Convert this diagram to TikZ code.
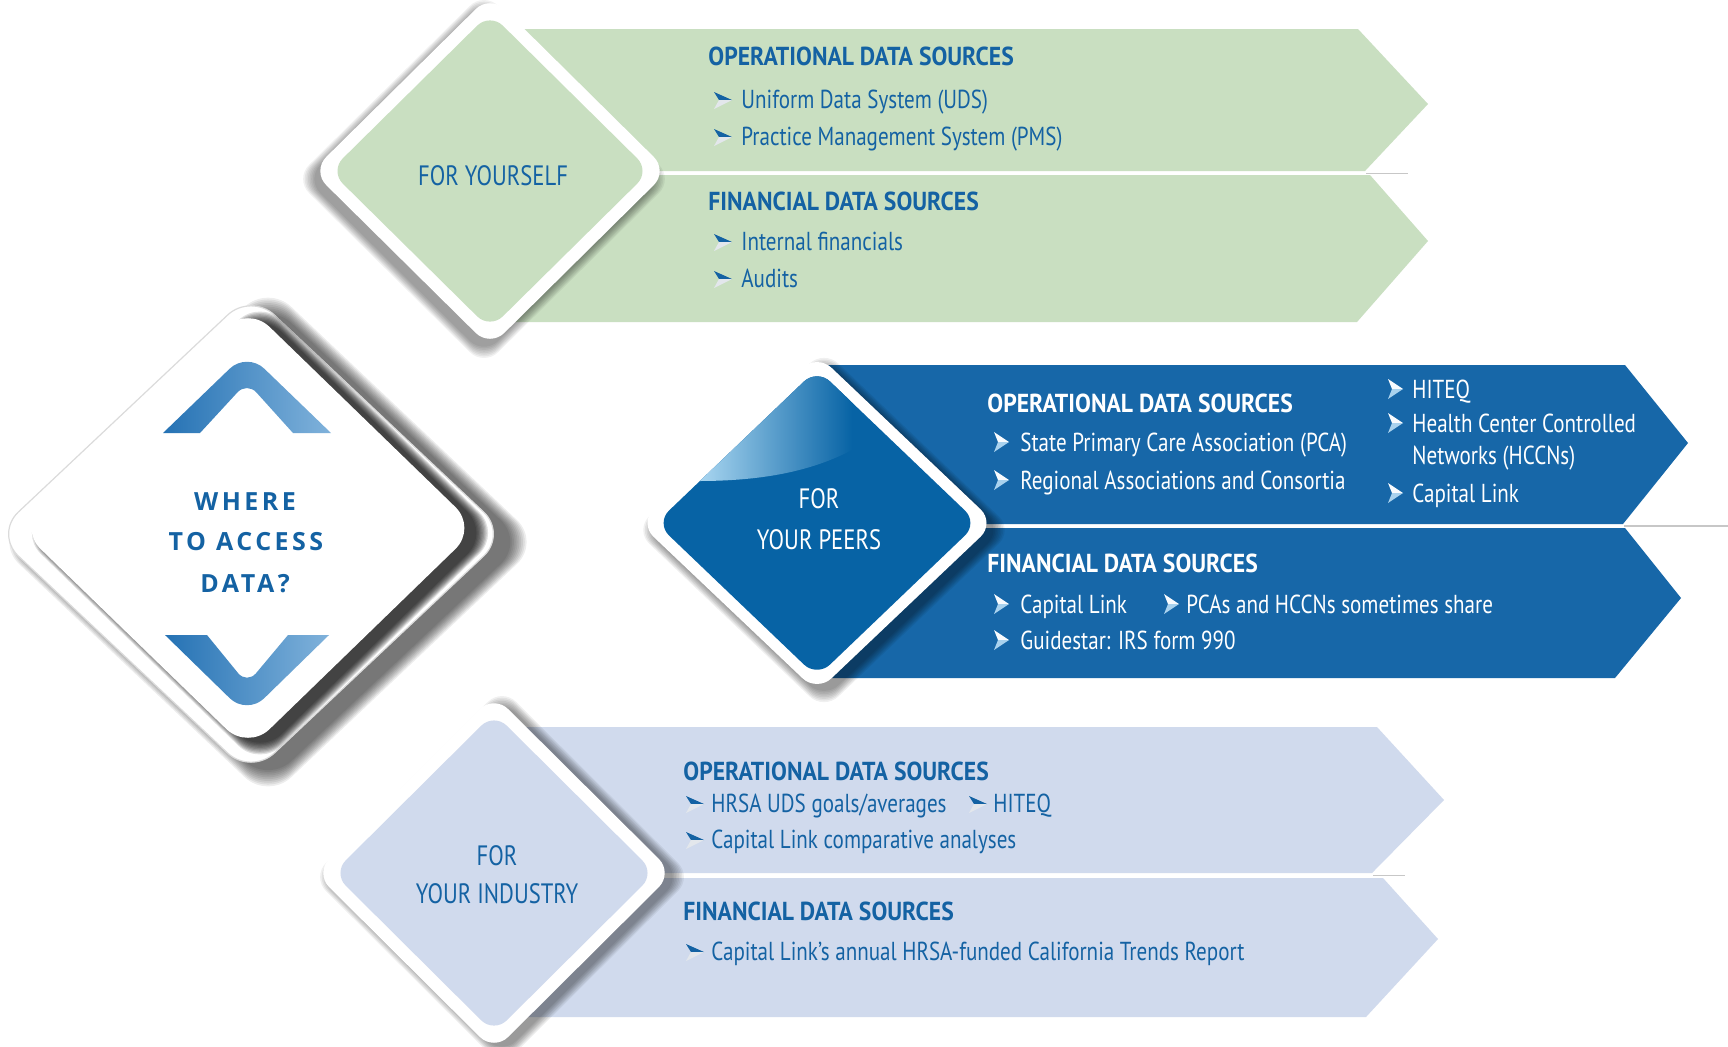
\documentclass[tikz,border=0pt]{standalone}
\usepackage{fontspec}
\setmainfont{PT Sans}
\newfontfamily\cond{PT Sans}[FakeStretch=0.81]
\newfontfamily\condhead{PT Sans}[FakeStretch=0.91]
\newfontfamily\wide{Open Sans}[LetterSpace=14]
\definecolor{ink}{HTML}{1462A3}
\definecolor{leaf}{HTML}{C9DFC1}
\definecolor{sea}{HTML}{1767A8}
\definecolor{deep}{HTML}{0763A5}
\definecolor{mist}{HTML}{D0DAED}
\definecolor{glow}{HTML}{B3DDF5}
\definecolor{chevA}{HTML}{2572B4}
\definecolor{chevB}{HTML}{80B2DB}
\definecolor{paper}{HTML}{E3E7EC}
\definecolor{pale}{HTML}{A9D2EE}
% rounded diamond: centre x, centre y, half width, half height, corner radius (pt)
\newcommand\rdiam[5]{[rounded corners=#5pt] ({(#1)-(#3)},#2) -- (#1,{(#2)-(#4)}) -- ({(#1)+(#3)},#2) -- (#1,{(#2)+(#4)}) -- cycle}
\tikzset{
  body/.style={font=\cond\fontsize{13}{15}\selectfont, anchor=base west, inner sep=0pt},
  head/.style={font=\condhead\bfseries\fontsize{13}{15}\selectfont, anchor=base west, inner sep=0pt},
  tag/.style={font=\cond\fontsize{14}{16}\selectfont, anchor=base, inner sep=0pt},
  big/.style={font=\wide\bfseries\fontsize{12.5}{14}\selectfont, text=ink, anchor=base, inner sep=0pt},
  rule/.style={draw=black!22, line width=0.8pt},
  gbullet/.pic={
    \fill[ink] (-10,-8) -- (8,0) -- (-5,0) -- cycle;
    \fill[paper] (-5,0) -- (8,0) -- (-10,9) -- cycle;
  },
  wbullet/.pic={
    \fill[white!92!pale] (-7,-10) -- (8,0) -- (-3,0) -- cycle;
    \fill[pale] (-3,0) -- (8,0) -- (-7,10) -- cycle;
  }
}
\begin{document}
\begin{tikzpicture}[x=0.5pt,y=-0.5pt]
\useasboundingbox (0,0) rectangle (1728,1046);
\fill[white] (0,0) rectangle (1728,1046);

% ---------- bands ----------
\fill[leaf] (490,29) -- (1358,29) -- (1428,104) -- (1365,171) -- (490,171) -- cycle;
\fill[leaf] (490,175) -- (1370,175) -- (1428,241) -- (1357,322) -- (490,322) -- cycle;
\draw[rule] (1366,173.5) -- (1408,173.5);

\fill[sea] (817,365) -- (1625,365) -- (1688,443) -- (1623,524) -- (817,524) -- cycle;
\fill[sea] (817,528) -- (1625,528) -- (1681,598) -- (1615,678) -- (817,678) -- cycle;
\draw[rule] (1624,526) -- (1728,526);

\fill[mist] (494,727) -- (1377,727) -- (1444,800) -- (1372,873) -- (494,873) -- cycle;
\fill[mist] (494,878) -- (1383,878) -- (1438,939) -- (1366,1017) -- (494,1017) -- cycle;
\draw[rule] (1373,875.5) -- (1405,875.5);

% ---------- small diamonds ----------
% for yourself
\foreach \k in {0,...,7}
  \fill[black,opacity=0.055] \rdiam{484}{179}{178+\k*1.6}{176+\k*1.6}{10};
\fill[white] \rdiam{490}{171}{178}{176}{10};
\fill[leaf] \rdiam{490}{171}{160}{158}{9};

% for your peers
\foreach \k in {0,...,7}
  \fill[black,opacity=0.06] \rdiam{824}{530}{178+\k*1.6}{169+\k*1.6}{10};
\fill[white] \rdiam{817}{523}{178}{169}{10};
\fill[deep] \rdiam{817}{523}{161}{154}{9};
\begin{scope}
  \clip \rdiam{817}{523}{161}{154}{9};
  \clip (650,484) -- (698,481) .. controls (760,481) and (810,472) .. (852,450) -- (852,350) -- (650,350) -- cycle;
  \shade[left color=glow, middle color=deep!55!glow, right color=deep] (690,350) rectangle (852,486);
\end{scope}

% for your industry
\foreach \k in {0,...,7}
  \fill[black,opacity=0.06] \rdiam{502}{877}{179+\k*1.6}{178+\k*1.6}{10};
\fill[white] \rdiam{494}{873}{179}{178}{10};
\fill[mist] \rdiam{494}{873}{161}{160}{9};

% ---------- central diamond ----------
% back plate and its shadow
\foreach \k in {0,...,9}
  \fill[black,opacity=0.07] \rdiam{268}{542}{256+\k*1.8}{241+\k*1.8}{16};
\fill[white] \rdiam{251}{534}{256}{241}{16};
\draw[black!14, line width=0.6pt] \rdiam{251}{534}{256}{241}{16};
% front plate and its shadow
\foreach \k in {0,...,9}
  \fill[black,opacity=0.12] \rdiam{260}{533}{229+\k*1.3}{222+\k*1.3}{15};
\fill[white] \rdiam{248}{528}{229}{222}{15};

% up and down chevrons
\shade[left color=chevA, right color=chevB] (163,433) [rounded corners=12pt] -- (247,352) [sharp corners] -- (331,433) -- (293,433) [rounded corners=7pt] -- (247,382) [sharp corners] -- (200,433) -- cycle;
\shade[left color=chevA, right color=chevB] (165,635) [rounded corners=12pt] -- (247,715) [sharp corners] -- (329,635) -- (288,635) [rounded corners=7pt] -- (247,684) [sharp corners] -- (207,635) -- cycle;

\node[big] (q1) at (245,510) {WHERE};
\node[big] (q2) at (246,550) {TO ACCESS};
\node[big] (q3) at (245,592) {DATA?};

% ---------- for yourself texts ----------
\node[tag, text=ink] (ytag) at (493,185) {FOR YOURSELF};
\node[head, text=ink] (yop) at (708,65) {OPERATIONAL DATA SOURCES};
\pic at (724,100) {gbullet};
\node[body, text=ink] (y1) at (741,108) {Uniform Data System (UDS)};
\pic at (724,137) {gbullet};
\node[body, text=ink] (y2) at (741,145) {Practice Management System (PMS)};
\node[head, text=ink] (yfin) at (708,210) {FINANCIAL DATA SOURCES};
\pic at (724,242) {gbullet};
\node[body, text=ink] (y3) at (741,250) {Internal financials};
\pic at (724,279) {gbullet};
\node[body, text=ink] (y4) at (741,287) {Audits};

% ---------- for your peers texts ----------
\node[tag, text=white] (ptag1) at (819,508) {FOR};
\node[tag, text=white] (ptag2) at (819,549) {YOUR PEERS};
\node[head, text=white] (pop) at (987,412) {OPERATIONAL DATA SOURCES};
\pic at (1001,442) {wbullet};
\node[body, text=white] (p1) at (1020,451) {State Primary Care Association (PCA)};
\pic at (1001,480) {wbullet};
\node[body, text=white] (p2) at (1020,489) {Regional Associations and Consortia};
\pic at (1395,389) {wbullet};
\node[body, text=white] (p3) at (1412,398) {HITEQ};
\pic at (1395,423) {wbullet};
\node[body, text=white] (p4) at (1412,432) {Health Center Controlled};
\node[body, text=white] (p5) at (1412,464) {Networks (HCCNs)};
\pic at (1395,493) {wbullet};
\node[body, text=white] (p6) at (1412,502) {Capital Link};
\node[head, text=white] (pfin) at (987,572) {FINANCIAL DATA SOURCES};
\pic at (1001,604) {wbullet};
\node[body, text=white] (p7) at (1020,613) {Capital Link};
\pic at (1171,604) {wbullet};
\node[body, text=white] (p8) at (1186,613) {PCAs and HCCNs sometimes share};
\pic at (1001,640) {wbullet};
\node[body, text=white] (p9) at (1020,649) {Guidestar: IRS form 990};

% ---------- for your industry texts ----------
\node[tag, text=ink] (itag1) at (497,865) {FOR};
\node[tag, text=ink] (itag2) at (497,903) {YOUR INDUSTRY};
\node[head, text=ink] (iop) at (683,780) {OPERATIONAL DATA SOURCES};
\pic at (696,804) {gbullet};
\node[body, text=ink] (i1) at (711,812) {HRSA UDS goals/averages};
\pic at (979,804) {gbullet};
\node[body, text=ink] (i2) at (993,812) {HITEQ};
\pic at (696,840) {gbullet};
\node[body, text=ink] (i3) at (711,848) {Capital Link comparative analyses};
\node[head, text=ink] (ifin) at (683,920) {FINANCIAL DATA SOURCES};
\pic at (696,952) {gbullet};
\node[body, text=ink] (i4) at (711,960) {Capital Link’s annual HRSA-funded California Trends Report};
\end{tikzpicture}
\end{document}
